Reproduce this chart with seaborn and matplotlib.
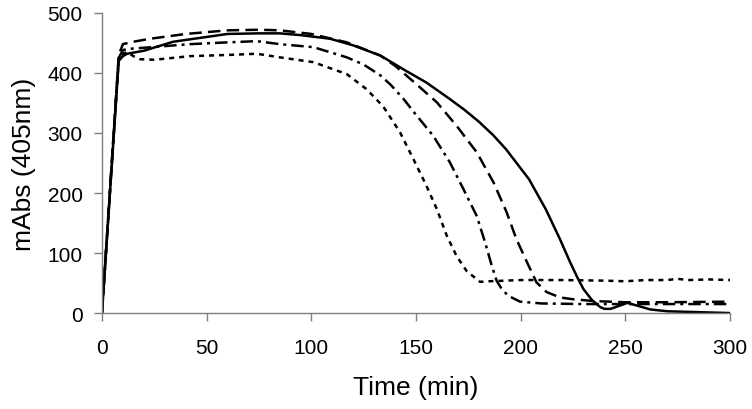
import numpy as np
import pandas as pd
import matplotlib
matplotlib.use("Agg")
import matplotlib.pyplot as plt
import seaborn as sns

# Data (time in min, mAbs at 405 nm)
solid_t = [0, 8, 10, 12, 20, 34, 50, 60, 75, 85, 95, 109, 120, 133, 145, 155, 166, 173, 180, 187, 193,
           204, 212, 218.8, 223.6, 227, 230, 234, 238, 240, 243, 247, 251, 256, 262, 270, 280, 300]
solid_y = [0, 420, 428, 432, 437, 452, 460, 465, 466, 466, 463, 457, 446, 429, 404, 384, 357, 339, 319, 296, 273,
           223, 173, 123, 85, 60, 40, 22, 10, 7, 7, 12, 17, 12, 6, 3, 2, 0]

longdash_t = [0, 8, 10, 15, 23, 40, 60, 75, 85, 100, 117, 133, 140, 149, 160, 169.4, 179, 187,
              193.3, 198, 203, 207.6, 212.4, 218.8, 225, 235, 250, 270, 300]
longdash_y = [0, 430, 448, 452, 457, 465, 471, 472, 471, 465, 451, 429, 412, 385, 351, 312, 268, 218,
              168, 123, 85, 51, 35, 26, 23, 20, 18, 18, 19]

dashdot_t = [0, 8, 10, 12, 20, 42, 60, 74, 85, 101, 117, 125, 133, 138, 144, 148.7, 158.3, 166.2, 172.6, 179,
             183, 186.2, 188.5, 191, 194, 199.7, 210, 230, 260, 300]
dashdot_y = [0, 425, 438, 440, 442, 448, 451, 453, 448, 443, 426, 414, 396, 380, 357, 336, 295, 251, 207, 162,
             118, 79, 54, 40, 29, 19, 16, 15, 15, 15]

dotted_t = [0, 8, 10, 12, 15, 18, 25, 42, 60, 74, 85, 101, 117, 126.4, 134.4, 142.4, 148.7, 155,
            160, 164.7, 169.4, 174.2, 180.6, 185, 200, 220, 240, 250, 260, 270, 275, 280, 290, 300]
dotted_y = [0, 423, 432, 435, 428, 423, 422, 428, 430, 432, 426, 418, 398, 373, 344, 301, 257, 212,
            173, 129, 95, 70, 52, 53, 55, 55, 54, 53, 55, 55, 57, 55, 56, 55]

x_ticks = [0, 50, 100, 150, 200, 250, 300]
y_ticks = [0, 100, 200, 300, 400, 500]

sns.set_style("ticks")
plt.rcParams['font.family'] = ['Liberation Sans', 'DejaVu Sans']

fig = plt.figure(figsize=(7.52, 4.10), dpi=100)
ax = fig.add_axes([0.1356, 0.234, 0.8351, 0.732])

lw = 1.8
sns.lineplot(x=solid_t, y=solid_y, ax=ax, color="black", linewidth=lw, linestyle="-")
sns.lineplot(x=longdash_t, y=longdash_y, ax=ax, color="black", linewidth=lw, linestyle=(0, (5, 2.5)))
sns.lineplot(x=dashdot_t, y=dashdot_y, ax=ax, color="black", linewidth=lw, linestyle=(0, (5, 2, 1.2, 2)))
sns.lineplot(x=dotted_t, y=dotted_y, ax=ax, color="black", linewidth=lw, linestyle=(0, (2, 2)))

ax.set_xlim(0, 300)
ax.set_ylim(0, 500)
ax.set_xticks(x_ticks)
ax.set_yticks(y_ticks)

for s in ["top", "right"]:
    ax.spines[s].set_visible(False)
for s in ["left", "bottom"]:
    ax.spines[s].set_color("#7f7f7f")
    ax.spines[s].set_linewidth(1.0)
ax.tick_params(axis="both", direction="out", length=6, width=1.0, color="#7f7f7f",
               labelsize=15, labelcolor="black", pad=8)
ax.tick_params(axis="x", pad=12)

ax.set_xlabel("Time (min)", fontsize=19, labelpad=13, color="black")
ax.set_ylabel("mAbs (405nm)", fontsize=19, labelpad=8, color="black")

fig.savefig("out.png", dpi=100)
